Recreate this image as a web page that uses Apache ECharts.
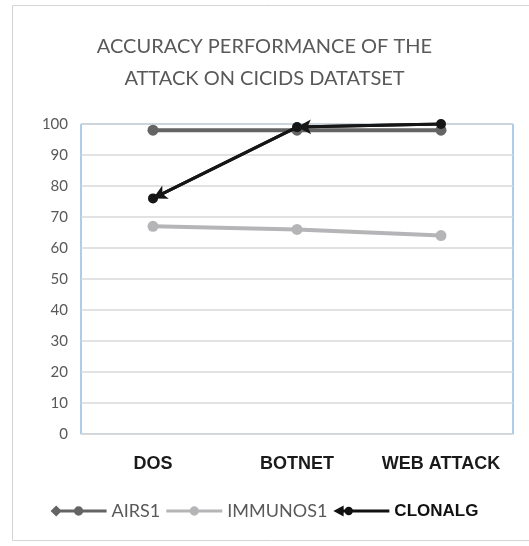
<!DOCTYPE html>
<html><head><meta charset="utf-8">
<script src="https://cdn.jsdelivr.net/npm/echarts@6/dist/echarts.min.js"></script>
<style>html,body{margin:0;padding:0;background:#fff}#c{width:529px;height:546px}</style>
</head><body><div id="c"></div>
<script>
var categories = ['DOS', 'BOTNET', 'WEB ATTACK'];
var airs1 = [98, 98, 98];
var immunos1 = [67, 66, 64];
var clonalg = [76, 99, 100];
var yTicks = [0, 10, 20, 30, 40, 50, 60, 70, 80, 90, 100];

var chart = echarts.init(document.getElementById('c'));

function arrowSegments(vals) {
  var segs = [];
  for (var i = 1; i < vals.length; i++) {
    segs.push([{coord: [i, vals[i]]}, {coord: [i - 1, vals[i - 1]]}]);
  }
  return segs;
}

var iconAirs = 'path://M0 6 L6 0 L12 6 L6 12 Z M10 4.5 L60 4.5 L60 7.5 L10 7.5 Z M25 6 A5 5 0 1 1 35 6 A5 5 0 1 1 25 6 Z';
var iconImm = 'path://M0 4.5 L60 4.5 L60 7.5 L0 7.5 Z M25 6 A5 5 0 1 1 35 6 A5 5 0 1 1 25 6 Z';
var iconClo = 'path://M0 6 L11 0 L11 12 Z M9 4.5 L60 4.5 L60 7.5 L9 7.5 Z M12 6 A4.5 4.5 0 1 1 21 6 A4.5 4.5 0 1 1 12 6 Z';

chart.setOption({
  animation: false,
  title: {
    text: 'ACCURACY PERFORMANCE OF THE\nATTACK ON CICIDS DATATSET',
    left: 'center', top: 26,
    textStyle: {fontFamily: 'Lato', fontWeight: 'normal', fontSize: 20, color: '#595959', lineHeight: 32}
  },
  graphic: [{
    type: 'rect', shape: {x: 12.5, y: 5.5, width: 530, height: 535},
    style: {fill: 'none', stroke: '#d4d4d4', lineWidth: 1}, silent: true, z: -1
  }],
  legend: {
    bottom: 21, left: 'center', itemGap: 6, itemWidth: 56, itemHeight: 12,
    textStyle: {fontFamily: 'Lato', fontSize: 18, color: '#595959'},
    data: [
      {name: 'AIRS1', icon: iconAirs, itemStyle: {color: '#646464'}},
      {name: 'IMMUNOS1', icon: iconImm, itemStyle: {color: '#b5b5b8'}},
      {name: 'CLONALG', icon: iconClo, itemStyle: {color: '#111'}, textStyle: {fontWeight: 'bold', color: '#111', fontFamily: 'Liberation Sans Narrow, Liberation Sans', fontSize: 17}}
    ]
  },
  grid: {left: 81, right: 16, top: 124, bottom: 112, show: true, borderColor: '#5b9bd5', borderWidth: 1},
  xAxis: {
    type: 'category', data: categories, boundaryGap: true,
    axisLine: {lineStyle: {color: '#d9d9d9', width: 1}},
    axisTick: {show: false},
    axisLabel: {interval: 0, hideOverlap: false, margin: 21, fontFamily: 'Liberation Sans', fontWeight: 'bold', fontSize: 18, color: '#1a1a1a'}
  },
  yAxis: {
    type: 'value', min: 0, max: 100, interval: 10,
    axisLine: {show: false}, axisTick: {show: false},
    axisLabel: {margin: 13, fontFamily: 'Lato', fontSize: 15, color: '#595959',
      formatter: function (v) { return yTicks.indexOf(v) >= 0 ? String(v) : ''; }},
    splitLine: {lineStyle: {color: '#d9d9d9', width: 1.5}}
  },
  series: [
    {name: 'AIRS1', type: 'line', data: airs1, symbol: 'circle', symbolSize: 11,
      lineStyle: {color: '#646464', width: 4}, itemStyle: {color: '#646464'}, z: 2},
    {name: 'IMMUNOS1', type: 'line', data: immunos1, symbol: 'circle', symbolSize: 11,
      lineStyle: {color: '#b5b5b8', width: 4}, itemStyle: {color: '#b5b5b8'}, z: 2},
    {name: 'CLONALG', type: 'line', data: clonalg, symbol: 'circle', symbolSize: 10,
      lineStyle: {color: '#161616', width: 3}, itemStyle: {color: '#161616'}, z: 3,
      markLine: {silent: true, symbol: ['none', 'arrow'], symbolSize: [11, 14], label: {show: false},
        lineStyle: {color: '#161616', width: 3, type: 'solid'}, animation: false,
        data: arrowSegments(clonalg)}}
  ]
});
</script></body></html>
